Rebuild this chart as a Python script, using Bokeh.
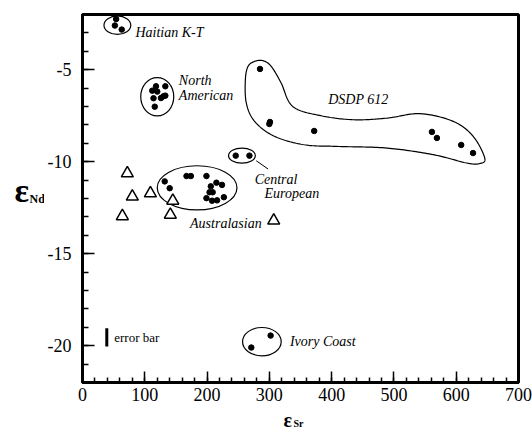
import numpy as np
from bokeh.plotting import figure
from bokeh.models import Range1d, SingleIntervalTicker, Label
from bokeh.layouts import row, column
from bokeh.embed import file_html
from bokeh.resources import INLINE

# ---------------- data ----------------
haiti_x = [54, 52, 63]
haiti_y = [-2.25, -2.6, -2.82]

na_x = [118, 133, 112, 120, 114, 126, 133, 130, 116]
na_y = [-5.9, -5.9, -6.14, -6.19, -6.55, -6.54, -6.41, -6.44, -7.01]

dsdp_x = [285, 301, 300, 372, 561, 569, 608, 627]
dsdp_y = [-4.96, -7.84, -7.95, -8.33, -8.38, -8.71, -9.09, -9.53]

ce_x = [246, 268]
ce_y = [-9.67, -9.67]

aus_x = [132, 140, 167, 174, 199, 215, 224, 206, 204, 209, 199, 208, 216, 227]
aus_y = [-11.07, -11.44, -10.78, -10.78, -10.78, -11.14, -11.26, -11.34,
         -11.66, -11.66, -11.98, -12.12, -12.10, -11.93]

tri_x = [72, 80, 109, 145, 64, 141, 307]
tri_y = [-10.63, -11.9, -11.72, -12.12, -12.96, -12.88, -13.2]

ivory_x = [271, 302]
ivory_y = [-20.1, -19.45]

# group outlines: centre x, centre y, width, height (data units)
ell_x = [56, 120, 256, 184, 288]
ell_y = [-2.58, -6.47, -9.67, -11.42, -19.78]
ell_w = [43, 53, 43, 128, 62]
ell_h = [1.0, 2.08, 0.82, 2.4, 1.54]

# DSDP 612 outline (control points, data units)
dsdp_out_x = [263, 261.5, 265.8, 276.4, 289.8, 303, 318.9, 337.6, 382.7, 435.8,
              489.1, 542.2, 595.3, 627.2, 645.8, 637.9, 616.6, 563.4, 489.1,
              409.4, 356.1, 308.2, 276.4]
dsdp_out_y = [-6.81, -5.54, -4.82, -4.55, -4.51, -4.82, -5.72, -7.0, -7.5, -7.72,
              -7.63, -7.39, -7.81, -8.62, -9.8, -10.1, -10.07, -9.62, -9.26,
              -9.17, -9.08, -8.62, -7.81]

y_tick_labels = {-5: "-5", -10: "-10", -15: "-15", -20: "-20"}

FONT = "Liberation Serif"


def closed_spline(xs, ys, n=20):
    xs = np.asarray(xs, float)
    ys = np.asarray(ys, float)
    m = len(xs)
    ox, oy = [], []
    for i in range(m):
        p0, p1, p2, p3 = i - 1, i, (i + 1) % m, (i + 2) % m
        for t in np.linspace(0, 1, n, endpoint=False):
            t2, t3 = t * t, t * t * t
            for arr, out in ((xs, ox), (ys, oy)):
                v = 0.5 * ((2 * arr[p1]) + (-arr[p0] + arr[p2]) * t +
                           (2 * arr[p0] - 5 * arr[p1] + 4 * arr[p2] - arr[p3]) * t2 +
                           (-arr[p0] + 3 * arr[p1] - 3 * arr[p2] + arr[p3]) * t3)
                out.append(v)
    ox.append(ox[0])
    oy.append(oy[0])
    return ox, oy


TOTAL_W = 532
MAIN_H = 408
STRIP_H = 23
LEFT_W = 44

p = figure(width=TOTAL_W - LEFT_W, height=MAIN_H, x_range=Range1d(0, 700),
           y_range=Range1d(-22, -2), output_backend="svg", toolbar_location=None,
           min_border_left=36, min_border_right=14, min_border_top=14, min_border_bottom=26)
p.grid.visible = False
p.outline_line_color = "black"
p.outline_line_width = 3
p.outline_line_alpha = 1

p.xaxis.ticker = SingleIntervalTicker(interval=100, num_minor_ticks=5)
p.yaxis.ticker = SingleIntervalTicker(interval=5, num_minor_ticks=5)
p.yaxis.major_label_overrides = y_tick_labels
for ax in (p.xaxis[0], p.yaxis[0]):
    ax.axis_line_width = 3
    ax.axis_line_color = "black"
    ax.major_tick_line_width = 1.5
    ax.minor_tick_line_width = 1.5
    ax.major_tick_line_color = "black"
    ax.minor_tick_line_color = "black"
    ax.major_tick_out = 0
    ax.minor_tick_out = 0
    ax.major_label_text_font = FONT
    ax.major_label_text_font_size = "18px"
    ax.major_label_text_color = "black"
p.xaxis.major_tick_in = 11
p.xaxis.minor_tick_in = 5
p.yaxis.major_tick_in = 12
p.yaxis.minor_tick_in = 6
p.xaxis.major_label_standoff = 5
p.yaxis.major_label_standoff = 11

# group outlines
p.ellipse(x=ell_x, y=ell_y, width=ell_w, height=ell_h, fill_color=None,
          line_color="black", line_width=1.2)
sx, sy = closed_spline(dsdp_out_x, dsdp_out_y)
p.line(sx, sy, line_color="black", line_width=1.2)

# leader line for Central European
p.line([279, 298], [-9.95, -10.4], line_color="black", line_width=1)

# error bar
p.line([39, 39], [-19.05, -20.05], line_color="black", line_width=3)

# points
for xs, ys in ((haiti_x, haiti_y), (na_x, na_y), (dsdp_x, dsdp_y), (ce_x, ce_y),
               (aus_x, aus_y), (ivory_x, ivory_y)):
    p.scatter(xs, ys, marker="circle", size=5.5, fill_color="black", line_color="black")
p.scatter(tri_x, tri_y, marker="triangle", size=12, fill_color="white",
          line_color="black", line_width=1.5)

# group labels
labels = [
    ("Haitian K-T", 85, -2.99),
    ("North", 154.7, -5.58),
    ("American", 154.7, -6.40),
    ("DSDP 612", 394.4, -6.61),
    ("Central", 276.4, -10.98),
    ("European", 292.3, -11.74),
    ("Australasian", 172.7, -13.34),
    ("Ivory Coast", 333, -19.77),
]
for txt, x, y in labels:
    p.add_layout(Label(x=x, y=y, text=txt, text_font=FONT, text_font_style="italic",
                       text_font_size="14px", text_baseline="middle", text_color="black"))
p.add_layout(Label(x=51, y=-19.53, text="error bar", text_font=FONT,
                   text_font_size="13px", text_baseline="middle", text_color="black"))


def strip(width, height):
    f = figure(width=width, height=height, x_range=Range1d(0, width),
               y_range=Range1d(0, height), output_backend="svg", toolbar_location=None,
               min_border=0, x_axis_location=None, y_axis_location=None)
    f.grid.visible = False
    f.outline_line_color = None
    return f


# y-axis title: epsilon Nd (positions in strip pixels, measured from its bottom)
left = strip(LEFT_W, MAIN_H)
left.add_layout(Label(x=14, y=MAIN_H - 195.5, text="ε",
                      text_font=FONT, text_font_style="bold", text_font_size="34px",
                      text_baseline="middle", text_color="black"))
left.add_layout(Label(x=29, y=MAIN_H - 205, text="Nd",
                      text_font=FONT, text_font_style="bold", text_font_size="12px",
                      text_baseline="middle", text_color="black"))

# x-axis title: epsilon Sr
bottom = strip(TOTAL_W, STRIP_H)
bottom.add_layout(Label(x=283, y=11.5, text="ε",
                        text_font=FONT, text_font_style="bold", text_font_size="20px",
                        text_baseline="middle", text_color="black"))
bottom.add_layout(Label(x=293, y=8, text="Sr",
                        text_font=FONT, text_font_style="bold", text_font_size="10px",
                        text_baseline="middle", text_color="black"))

layout = column(row(left, p), bottom)
open("out.html", "w").write(file_html(layout, INLINE))
